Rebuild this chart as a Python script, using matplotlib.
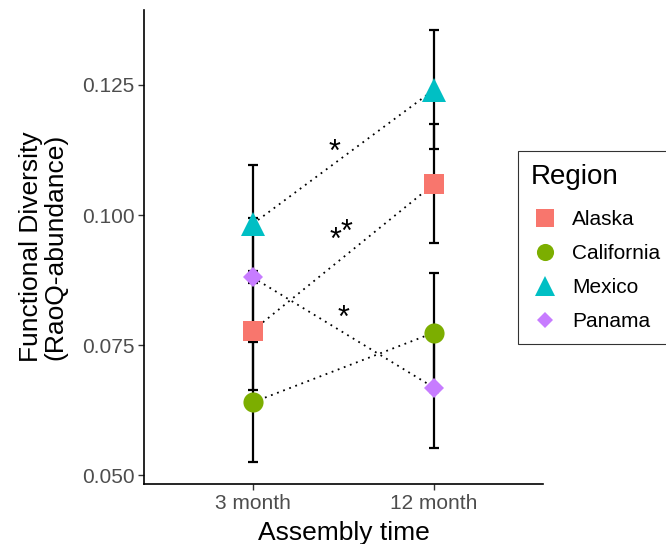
import matplotlib.pyplot as plt
from matplotlib.lines import Line2D

plt.rcParams['font.family'] = ['Liberation Sans', 'DejaVu Sans']

times = ['3 month', '12 month']
regions = ['Alaska', 'California', 'Mexico', 'Panama']
means = {
    'Alaska': [0.0778, 0.1060],
    'California': [0.0640, 0.0774],
    'Mexico': [0.0983, 0.1241],
    'Panama': [0.0880, 0.0668],
}
ses = {
    'Alaska': [0.0114, 0.0114],
    'California': [0.0115, 0.0115],
    'Mexico': [0.0114, 0.0114],
    'Panama': [0.0115, 0.0115],
}
# significance stars: (x in category units, y, label)
stars_x = [1.45, 1.455, 1.515, 1.50]
stars_y = [0.1120, 0.0950, 0.0965, 0.0800]
stars_lab = ['*', '*', '*', '*']

colors = {'Alaska': '#F8766D', 'California': '#7CAE00',
          'Mexico': '#00BFC4', 'Panama': '#C77CFF'}
markers = {'Alaska': 's', 'California': 'o', 'Mexico': '^', 'Panama': 'D'}
msizes = {'Alaska': 15, 'California': 14.5, 'Mexico': 17.5, 'Panama': 10}

fig = plt.figure(figsize=(6.66, 5.44), dpi=100)
ax = fig.add_axes([0.2162, 0.1103, 0.5991, 0.8713])

x = [1, 2]
for r in regions:
    ax.errorbar(x, means[r], yerr=ses[r], fmt='none', ecolor='black',
                elinewidth=1.6, capsize=3.7, capthick=1.6, zorder=2)
for r in regions:
    ax.plot(x, means[r], color='black', lw=1.3, linestyle=(0, (1, 2.6)), zorder=3)
for r in regions:
    ax.plot(x, means[r], linestyle='none', marker=markers[r], ms=msizes[r],
            color=colors[r], markeredgewidth=0, zorder=4)

for sx, sy, sl in zip(stars_x, stars_y, stars_lab):
    ax.text(sx, sy, sl, ha='center', va='center', fontsize=22, color='black')

ax.set_xlim(0.4, 2.6)
ax.set_ylim(0.0483, 0.1394)
ax.set_xticks(x)
ax.set_xticklabels(times)
ax.set_yticks([0.050, 0.075, 0.100, 0.125])
ax.set_yticklabels(['0.050', '0.075', '0.100', '0.125'])
ax.tick_params(labelsize=15, labelcolor='#4D4D4D', color='#333333',
               length=4, width=1, pad=3)
for s in ['top', 'right']:
    ax.spines[s].set_visible(False)
for s in ['left', 'bottom']:
    ax.spines[s].set_linewidth(1.2)

ax.set_xlabel('Assembly time', fontsize=19, labelpad=6)
ax.set_ylabel('Functional Diversity\n(RaoQ-abundance)', fontsize=19,
              labelpad=10, linespacing=1.05)

handles = [Line2D([], [], linestyle='none', marker=markers[r], ms=msizes[r] * 0.85,
                  color=colors[r], markeredgewidth=0) for r in regions]
leg = fig.legend(handles, regions, title='Region', loc='upper left',
                 bbox_to_anchor=(0.778, 0.7224), borderaxespad=0,
                 fontsize=15, title_fontsize=20,
                 frameon=True, fancybox=False, edgecolor='black',
                 labelspacing=0.72, handletextpad=0.6, borderpad=0.6,
                 handlelength=1.4)
leg.get_frame().set_linewidth(0.8)
leg._legend_box.align = 'left'
leg._legend_box.sep = 15
leg.set_title('Region', prop={'size': 20})

fig.savefig('out.png', dpi=100)
